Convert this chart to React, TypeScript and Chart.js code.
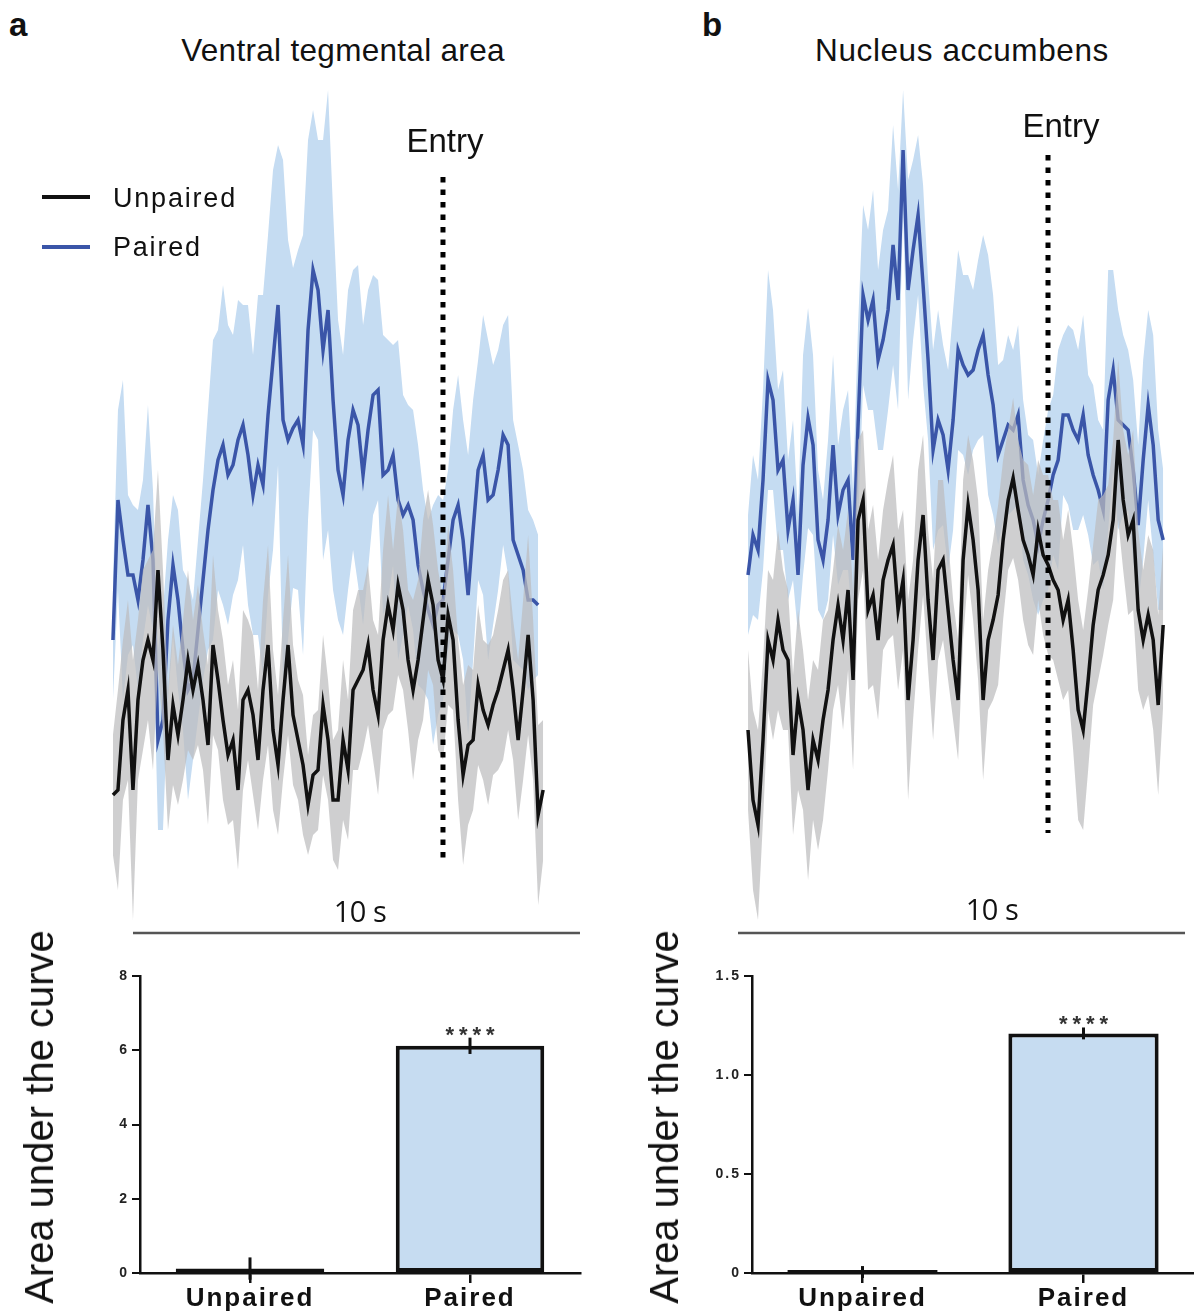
import React, { useEffect, useRef } from "react";
import { Chart, registerables } from "chart.js";

Chart.register(...registerables);

const FONT = '"Liberation Sans", Arial, Helvetica, sans-serif';
const FONT_SCALE = '"Open Sans", "Liberation Sans", sans-serif';

// ---------------- photometry traces (z-score, mean and SEM) ----------------
const SAMPLE_DT = 0.1119; // seconds between samples
const VTA_T0 = -7.383; // first sample, seconds relative to Entry
const NAC_T0 = -6.711;

const VTA_PAIRED = [
  2.9, 4.3, 3.9, 3.55, 3.55, 3.3, 3.7, 4.25, 3.7, 1.9,
  2.1, 3.1, 3.65, 3.3, 2.8, 2.4, 2.5, 3.0, 3.5, 4.0,
  4.4, 4.7, 4.85, 4.55, 4.65, 4.9, 5.05, 4.75, 4.35, 4.65,
  4.45, 5.15, 5.7, 6.25, 5.1, 4.9, 5.02, 5.1, 4.85, 6.0,
  6.6, 6.4, 5.8, 6.2, 5.3, 4.6, 4.35, 4.9, 5.2, 5.05,
  4.55, 5.0, 5.35, 5.4, 4.55, 4.6, 4.75, 4.3, 4.15, 4.25,
  4.1, 3.65, 3.4, 3.2, 3.05, 3.25, 3.3, 3.7, 4.1, 4.25,
  3.9, 3.35, 4.0, 4.6, 4.75, 4.3, 4.35, 4.6, 4.95, 4.85,
  3.9, 3.75, 3.6, 3.3, 3.3, 3.25,
];
const VTA_PAIRED_SEM = [
  0.6, 0.9, 1.6, 0.8, 0.7, 0.9, 0.8, 1.0, 0.7, 0.9,
  1.1, 0.8, 0.7, 0.9, 0.8, 1.1, 0.8, 0.9, 1.0, 1.2,
  1.5, 1.3, 1.6, 1.5, 1.3, 1.4, 1.2, 1.5, 1.4, 1.7,
  1.9, 1.8, 1.9, 1.6, 2.6, 2.0, 1.6, 1.7, 2.1, 1.9,
  1.6, 1.5, 2.1, 2.2, 1.9, 1.5, 1.4, 1.5, 1.4, 1.6,
  1.5, 1.4, 1.2, 1.1, 1.4, 1.3, 1.1, 1.6, 1.2, 1.0,
  1.1, 1.2, 1.0, 0.9, 1.2, 1.1, 1.0, 0.9, 1.1, 1.3,
  1.2, 1.4, 1.3, 1.1, 1.4, 1.6, 1.3, 1.2, 1.1, 1.3,
  1.2, 1.1, 1.0, 0.9, 0.8, 0.7,
];
const VTA_UNPAIRED = [
  1.35, 1.4, 2.1, 2.4, 1.4, 2.3, 2.7, 2.9, 2.7, 3.6,
  2.8, 1.7, 2.25, 1.95, 2.3, 2.7, 2.4, 2.65, 2.3, 1.85,
  2.85, 2.5, 2.1, 1.75, 1.9, 1.4, 2.3, 2.4, 2.15, 1.7,
  2.4, 2.85, 2.0, 1.65, 2.3, 2.85, 2.15, 1.9, 1.65, 1.25,
  1.55, 1.6, 2.25, 1.9, 1.3, 1.3, 1.9, 1.6, 2.4, 2.5,
  2.6, 2.85, 2.4, 2.15, 2.9, 3.25, 3.0, 3.45, 3.2, 2.7,
  2.4, 2.7, 3.1, 3.5, 3.25, 2.7, 2.5, 3.15, 2.9, 2.1,
  1.55, 1.85, 1.9, 2.45, 2.2, 2.05, 2.25, 2.4, 2.6, 2.8,
  2.4, 1.9, 2.4, 2.95, 2.3, 1.15, 1.4,
];
const VTA_UNPAIRED_SEM = [
  0.6, 1.0, 0.8, 0.9, 1.3, 0.8, 0.9, 0.8, 1.1, 1.0,
  0.8, 0.7, 0.8, 0.7, 0.8, 0.9, 0.7, 0.8, 0.7, 0.8,
  0.9, 0.7, 0.8, 0.7, 0.8, 0.8, 0.9, 0.7, 0.8, 0.7,
  0.9, 1.0, 0.8, 0.7, 0.8, 0.9, 0.7, 0.6, 0.7, 0.5,
  0.6, 0.6, 0.7, 0.6, 0.6, 0.7, 0.8, 0.7, 0.8, 0.9,
  0.8, 0.8, 0.7, 0.8, 0.9, 1.1, 0.8, 0.9, 0.8, 0.7,
  0.9, 0.8, 1.0, 0.9, 0.8, 0.9, 0.8, 0.9, 0.7, 0.8,
  0.9, 0.8, 0.7, 0.8, 0.7, 0.8, 0.7, 0.8, 0.9, 0.8,
  0.7, 0.8, 0.9, 1.0, 0.8, 0.9, 0.7,
];

const NAC_PAIRED = [
  3.55, 3.95, 3.8, 4.5, 5.5, 5.3, 4.6, 4.7, 4.0, 4.3,
  3.55, 4.65, 5.12, 4.85, 3.9, 3.7, 4.1, 4.85, 4.15, 4.4,
  4.5, 3.7, 5.05, 6.35, 6.1, 6.3, 5.7, 5.9, 6.2, 6.85,
  6.3, 7.8, 6.4, 6.8, 7.15, 6.45, 5.7, 4.8, 5.1, 4.95,
  4.6, 5.1, 5.8, 5.65, 5.55, 5.6, 5.8, 5.95, 5.55, 5.25,
  4.75, 4.9, 5.05, 5.0, 5.15, 4.5, 4.25, 4.1, 3.85, 4.1,
  4.3, 4.55, 4.7, 5.15, 5.15, 5.0, 4.9, 5.15, 4.75, 4.55,
  4.4, 4.2, 5.3, 5.6, 5.1, 5.05, 5.0, 4.6, 4.05, 4.7,
  5.25, 4.85, 4.1, 3.9,
];
const NAC_PAIRED_SEM = [
  0.6, 0.8, 0.7, 0.9, 1.1, 0.9, 0.8, 0.9, 0.7, 0.8,
  0.6, 1.1, 1.1, 0.9, 0.7, 0.6, 0.8, 0.9, 0.7, 0.8,
  0.9, 0.7, 1.0, 0.9, 0.9, 1.1, 0.9, 1.1, 1.0, 1.2,
  1.1, 0.6, 1.1, 0.9, 0.8, 1.0, 0.8, 1.0, 1.1, 0.9,
  1.0, 1.1, 1.0, 0.9, 1.0, 0.8, 0.9, 1.0, 1.2, 1.1,
  0.9, 0.8, 0.9, 0.8, 0.9, 0.8, 0.7, 0.8, 0.7, 0.8,
  0.9, 0.8, 1.1, 0.8, 0.9, 1.0, 0.9, 1.0, 0.8, 0.9,
  0.7, 0.8, 1.3, 1.0, 1.1, 0.9, 0.8, 0.9, 0.8, 1.0,
  0.95, 1.1, 0.9, 0.7,
];
const NAC_UNPAIRED = [
  2.0, 1.3, 1.05, 1.9, 2.9, 2.7, 3.1, 2.8, 2.7, 1.75,
  2.3, 2.0, 1.4, 1.9, 1.7, 2.1, 2.4, 2.9, 3.25, 2.9,
  3.4, 2.5, 4.1, 4.3, 3.2, 3.35, 2.9, 3.5, 3.7, 3.85,
  3.2, 3.5, 2.3, 2.9, 3.7, 4.15, 3.3, 2.7, 3.6, 3.7,
  3.2, 2.7, 2.3, 3.7, 4.25, 3.9, 3.4, 2.3, 2.9, 3.1,
  3.35, 3.9, 4.3, 4.52, 4.2, 3.9, 3.75, 3.55, 4.0, 3.75,
  3.65, 3.5, 3.4, 3.1, 3.3, 2.8, 2.2, 2.0, 2.5, 3.05,
  3.4, 3.55, 3.75, 4.1, 4.9, 4.3, 3.95, 4.1, 3.2, 2.9,
  3.15, 2.9, 2.25, 3.05,
];
const NAC_UNPAIRED_SEM = [
  0.8, 0.9, 0.95, 0.8, 0.7, 0.8, 0.9, 0.8, 0.7, 0.8,
  0.9, 0.8, 0.9, 0.8, 0.9, 1.0, 0.8, 0.7, 0.8, 0.9,
  0.8, 0.9, 0.8, 0.7, 0.8, 0.9, 0.8, 0.7, 0.8, 0.9,
  0.8, 0.7, 1.0, 0.8, 0.9, 0.8, 0.7, 0.8, 0.9, 0.8,
  0.7, 0.6, 0.6, 0.8, 0.7, 0.8, 0.9, 0.8, 0.7, 0.8,
  0.9, 0.8, 0.7, 0.8, 0.7, 0.8, 0.9, 0.8, 0.7, 0.8,
  0.9, 0.8, 0.9, 0.8, 0.9, 1.0, 1.1, 1.0, 0.9, 0.8,
  0.9, 0.8, 0.7, 0.8, 0.8, 0.7, 0.8, 0.9, 0.8, 0.7,
  0.8, 0.9, 0.9, 0.8,
];

// Entry marker (t = 0) vertical extent, and 10 s scale bar
const VTA_ENTRY_SPAN = [7.53, 0.72];
const NAC_ENTRY_SPAN = [7.75, 0.97];
const SCALE_BAR_START = -6.935;
const SCALE_BAR_LEN = 10;
const SCALE_BAR_LEVEL = -0.03;
const TRACE_Y_MIN = -0.1;
const TRACE_Y_MAX = 8.5;

// ---------------- area under the curve ----------------
const AUC_GROUPS = ["Unpaired", "Paired"];
const VTA_AUC_MEAN = [0.12, 6.12];
const VTA_AUC_SEM = [0.3, 0.22];
const NAC_AUC_MEAN = [0.005, 1.21];
const NAC_AUC_SEM = [0.03, 0.03];
const AUC_SIG = ["", "****"];

const BLUE = "#3a55a8";
const BLUE_BAND = "#c5dcf2";
const GRAY_BAND = "rgba(188,189,190,0.72)";
const BLACK = "#111111";
const BAR_FILL = "#c6dcf1";

function traceConfig(
  t0: number,
  paired: number[],
  pairedSem: number[],
  unpaired: number[],
  unpairedSem: number[],
  xMin: number,
  xMax: number,
  entry: number[]
): any {
  const pts = (arr: number[]) => arr.map((v, i) => ({ x: t0 + i * SAMPLE_DT, y: v }));
  const hi = (m: number[], s: number[]) => m.map((v, i) => v + s[i]);
  const lo = (m: number[], s: number[]) => m.map((v, i) => v - s[i]);
  const base = { pointRadius: 0, borderWidth: 0, borderColor: "transparent", tension: 0, fill: false };
  return {
    type: "line",
    data: {
      datasets: [
        { ...base, data: pts(hi(paired, pairedSem)), order: 7 },
        { ...base, data: pts(lo(paired, pairedSem)), fill: "-1", backgroundColor: BLUE_BAND, order: 6 },
        { ...base, data: pts(paired), borderColor: BLUE, borderWidth: 3.5, order: 5 },
        { ...base, data: pts(hi(unpaired, unpairedSem)), order: 4 },
        { ...base, data: pts(lo(unpaired, unpairedSem)), fill: "-1", backgroundColor: GRAY_BAND, order: 3 },
        { ...base, data: pts(unpaired), borderColor: BLACK, borderWidth: 3.5, order: 2 },
        {
          ...base,
          data: [
            { x: SCALE_BAR_START, y: SCALE_BAR_LEVEL },
            { x: SCALE_BAR_START + SCALE_BAR_LEN, y: SCALE_BAR_LEVEL },
          ],
          borderColor: "#555",
          borderWidth: 2.5,
          order: 1,
        },
        {
          ...base,
          data: [
            { x: 0, y: entry[0] },
            { x: 0, y: entry[1] },
          ],
          borderColor: "#000",
          borderWidth: 5,
          borderDash: [5.5, 7],
          order: 0,
        },
      ],
    },
    options: {
      responsive: false,
      maintainAspectRatio: false,
      animation: false,
      events: [],
      layout: { padding: 0 },
      plugins: { legend: { display: false }, tooltip: { enabled: false }, title: { display: false } },
      scales: {
        x: { type: "linear", min: xMin, max: xMax, display: false },
        y: { type: "linear", min: TRACE_Y_MIN, max: TRACE_Y_MAX, display: false },
      },
    },
  };
}

const spacingPlugin = {
  id: "letterSpacing",
  beforeDraw(chart: any) {
    chart.ctx.letterSpacing = "2px";
  },
  afterDraw(chart: any) {
    chart.ctx.letterSpacing = "0px";
  },
};

const errorBarPlugin = {
  id: "errorBars",
  afterDatasetsDraw(chart: any, _args: any, opts: any) {
    const ctx = chart.ctx;
    const y = chart.scales.y;
    const meta = chart.getDatasetMeta(0);
    opts.mean.forEach((m: number, i: number) => {
      const cx = meta.data[i].x;
      const yTop = y.getPixelForValue(m + opts.sem[i]);
      const yBot = y.getPixelForValue(m - opts.sem[i]);
      ctx.save();
      ctx.strokeStyle = BLACK;
      ctx.lineWidth = 3;
      ctx.beginPath();
      ctx.moveTo(cx, yTop);
      ctx.lineTo(cx, yBot);
      ctx.stroke();
      if (opts.sig[i]) {
        ctx.letterSpacing = "5px";
        ctx.fillStyle = "#333";
        ctx.font = `bold 22px ${FONT}`;
        ctx.textAlign = "center";
        ctx.textBaseline = "alphabetic";
        ctx.fillText(opts.sig[i], cx + 2.5, yTop + 4);
      }
      ctx.restore();
    });
  },
};

function aucConfig(
  mean: number[],
  sem: number[],
  yMax: number,
  yStep: number,
  fmt: (v: number) => string,
  padRight: number,
  barPct: number
): any {
  return {
    type: "bar",
    data: {
      labels: AUC_GROUPS,
      datasets: [
        {
          data: mean,
          backgroundColor: [BLACK, BAR_FILL],
          borderColor: BLACK,
          borderWidth: 4,
          borderSkipped: false,
          minBarLength: 3,
          barPercentage: barPct,
          categoryPercentage: 1,
        },
      ],
    },
    options: {
      responsive: false,
      maintainAspectRatio: false,
      animation: false,
      events: [],
      layout: { padding: { top: 16, right: padRight, left: 0, bottom: 0 } },
      plugins: {
        legend: { display: false },
        tooltip: { enabled: false },
        errorBars: { mean, sem, sig: AUC_SIG },
      },
      scales: {
        x: {
          grid: { offset: false, drawOnChartArea: false, tickLength: 10, color: BLACK, lineWidth: 2.5 },
          border: { color: BLACK, width: 2.5 },
          ticks: {
            color: "#111",
            font: { family: FONT, size: 26, weight: "bold" },
            padding: 0,
            maxRotation: 0,
            autoSkip: false,
          },
          afterFit: (s: any) => {
            s.height = 39;
          },
        },
        y: {
          min: 0,
          max: yMax,
          ticks: {
            stepSize: yStep,
            callback: (v: any) => fmt(Number(v)),
            color: "#222",
            font: { family: FONT, size: 14, weight: "bold" },
            padding: 3,
          },
          grid: { drawOnChartArea: false, tickLength: 8, color: BLACK, lineWidth: 2 },
          border: { color: BLACK, width: 2.5 },
          afterFit: (s: any) => {
            s.width = 80;
          },
        },
      },
    },
    plugins: [spacingPlugin, errorBarPlugin],
  };
}

function ChartCanvas(props: { left: number; top: number; width: number; height: number; make: () => any }) {
  const ref = useRef<HTMLCanvasElement>(null);
  useEffect(() => {
    const chart = new Chart(ref.current as HTMLCanvasElement, props.make());
    return () => chart.destroy();
  }, []);
  return (
    <canvas
      ref={ref}
      width={props.width}
      height={props.height}
      style={{ position: "absolute", left: props.left, top: props.top, width: props.width, height: props.height, display: "block" }}
    />
  );
}

function Txt(props: {
  x: number;
  y: number;
  size: number;
  text: string;
  weight?: number;
  anchor?: "start" | "middle";
  ls?: number;
  family?: string;
  color?: string;
}) {
  const family = props.family || FONT;
  const asc = family === FONT_SCALE ? 0.888 : 0.8465;
  return (
    <div
      style={{
        position: "absolute",
        left: props.x,
        top: props.y - asc * props.size,
        fontFamily: family,
        fontSize: props.size,
        lineHeight: `${props.size}px`,
        fontWeight: props.weight || 400,
        letterSpacing: props.ls || 0,
        whiteSpace: "nowrap",
        color: props.color || "#111",
        transform: props.anchor === "middle" ? "translateX(-50%)" : undefined,
      }}
    >
      {props.text}
    </div>
  );
}

function YTitle(props: { cx: number; cy: number; text: string }) {
  return (
    <div
      style={{
        position: "absolute",
        left: props.cx,
        top: props.cy,
        transform: "translate(-50%, -50%) rotate(-90deg)",
        fontFamily: FONT,
        fontSize: 40,
        lineHeight: "40px",
        whiteSpace: "nowrap",
        color: "#111",
      }}
    >
      {props.text}
    </div>
  );
}

export default function App() {
  return (
    <div style={{ position: "absolute", left: 0, top: 0, width: 1194, height: 1312, background: "#fff", overflow: "hidden" }}>
      <ChartCanvas
        left={100}
        top={80}
        width={490}
        height={860}
        make={() =>
          traceConfig(VTA_T0, VTA_PAIRED, VTA_PAIRED_SEM, VTA_UNPAIRED, VTA_UNPAIRED_SEM, -7.673, 3.289, VTA_ENTRY_SPAN)
        }
      />
      <ChartCanvas
        left={730}
        top={80}
        width={464}
        height={860}
        make={() =>
          traceConfig(NAC_T0, NAC_PAIRED, NAC_PAIRED_SEM, NAC_UNPAIRED, NAC_UNPAIRED_SEM, -7.114, 3.266, NAC_ENTRY_SPAN)
        }
      />
      <ChartCanvas
        left={60}
        top={960}
        width={540}
        height={352}
        make={() => aucConfig(VTA_AUC_MEAN, VTA_AUC_SEM, 8, 2, (v) => String(v), 20, 0.675)}
      />
      <ChartCanvas
        left={672}
        top={960}
        width={522}
        height={352}
        make={() => aucConfig(NAC_AUC_MEAN, NAC_AUC_SEM, 1.5, 0.5, (v) => (v === 0 ? "0" : v.toFixed(1)), 0, 0.68)}
      />

      <Txt x={9} y={36} size={33} weight={700} text="a" />
      <Txt x={702} y={36} size={33} weight={700} text="b" />
      <Txt x={343} y={62} size={31.5} ls={0.3} anchor="middle" text="Ventral tegmental area" />
      <Txt x={962} y={62} size={31.5} ls={0.6} anchor="middle" text="Nucleus accumbens" />
      <Txt x={445} y={152} size={33} anchor="middle" text="Entry" />
      <Txt x={1061} y={137} size={33} anchor="middle" text="Entry" />

      <div style={{ position: "absolute", left: 42, top: 195, width: 48, height: 3.5, background: BLACK }} />
      <div style={{ position: "absolute", left: 42, top: 245, width: 48, height: 3.5, background: BLUE }} />
      <Txt x={113} y={208} size={27} ls={1.8} text="Unpaired" />
      <Txt x={113} y={257} size={27} ls={1.8} text="Paired" />

      <Txt x={360} y={922} size={29} ls={-0.5} family={FONT_SCALE} anchor="middle" text="10 s" />
      <Txt x={992} y={920} size={29} ls={-0.5} family={FONT_SCALE} anchor="middle" text="10 s" />

      <YTitle cx={39} cy={1117} text="Area under the curve" />
      <YTitle cx={664} cy={1117} text="Area under the curve" />
    </div>
  );
}
